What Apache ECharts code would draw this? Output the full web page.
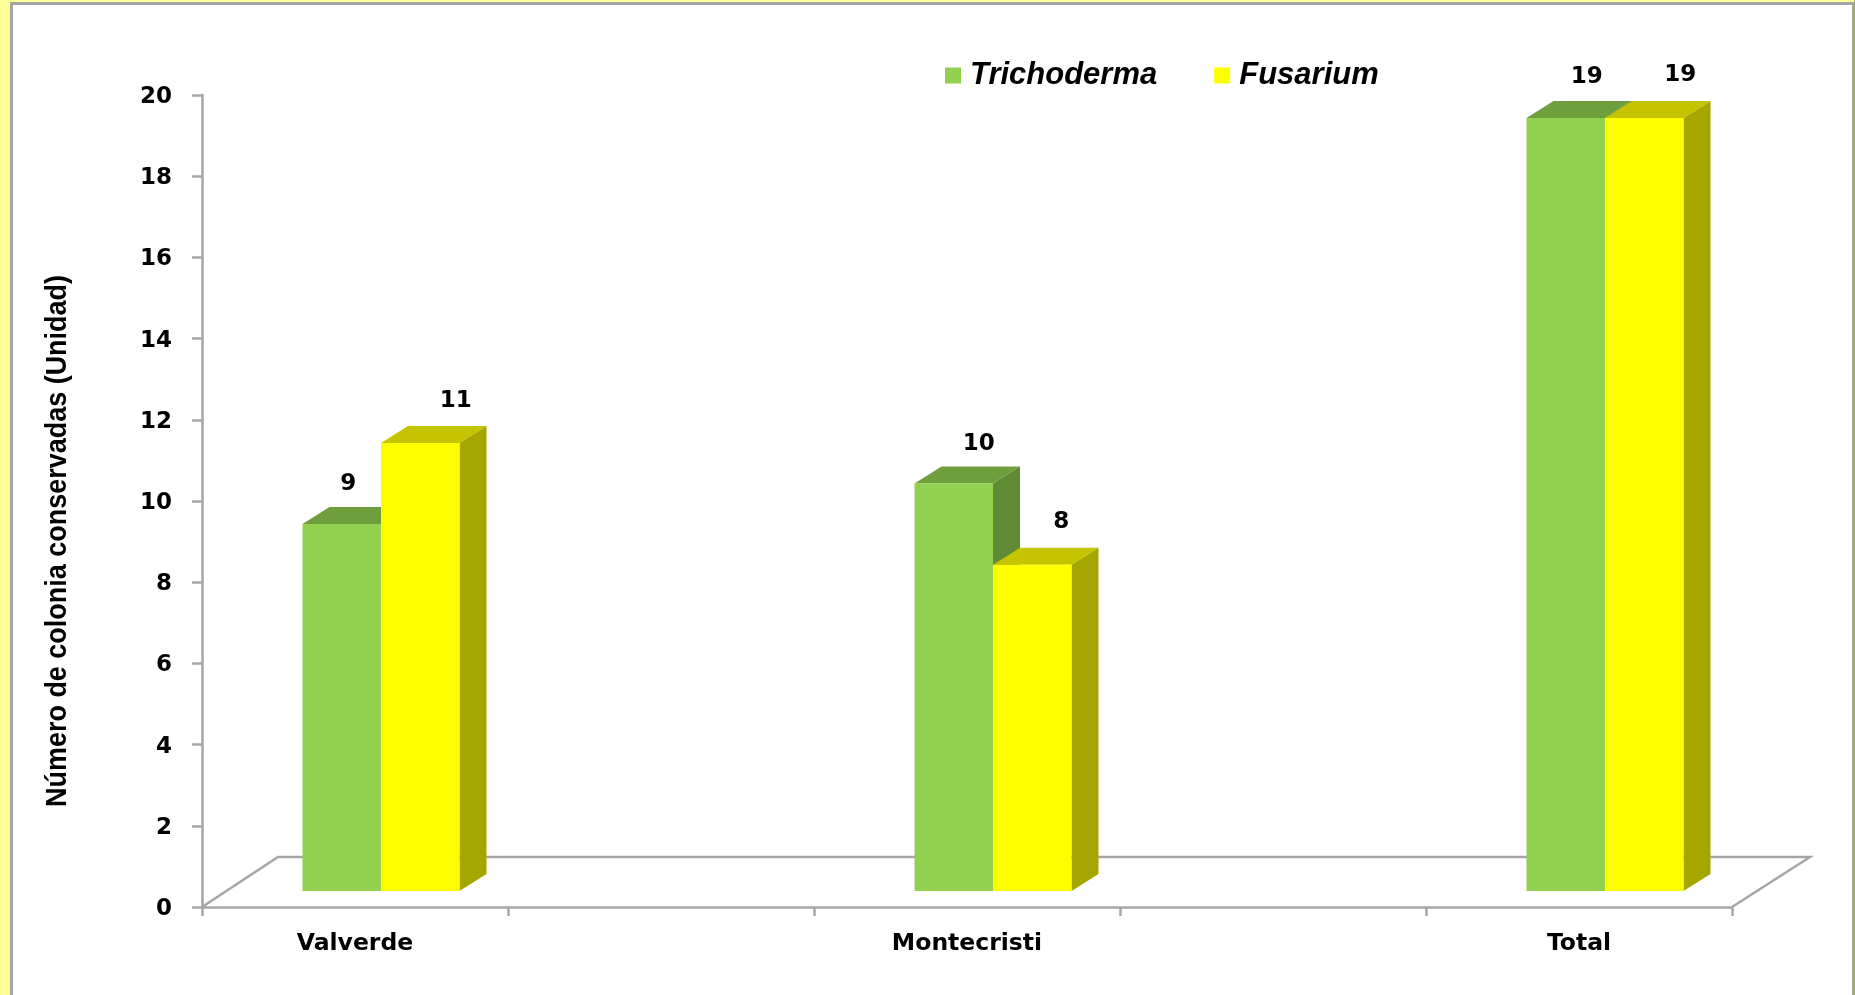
<!DOCTYPE html>
<html><head><meta charset="utf-8">
<style>html,body{margin:0;padding:0;background:#fff}#c{width:1855px;height:995px}</style>
<script src="https://cdn.jsdelivr.net/npm/echarts@6/dist/echarts.min.js"></script>
</head><body><div id="c"></div>
<script>
var categories = ['Valverde', '', 'Montecristi', '', 'Total'];
var trichoderma = [9, null, 10, null, 19];
var fusarium = [11, null, 8, null, 19];
var seriesNames = ['Trichoderma', 'Fusarium'];
var yTicks = {min: 0, max: 20, interval: 2};
var yTitle = 'Número de colonia conservadas (Unidad)';

// 3D-look styling (layout only, not data)
var greenFaces = {front: '#92D050', top: '#6F9E3D', side: '#5F8A34'};
var yellowFaces = {front: '#FFFF00', top: '#C4C400', side: '#A6A600'};
var DEPTH_X = 26, DEPTH_Y = 17, BAR_W = 78.5, LIFT_BASE = 16, LIFT_TOP = 17.5;
// hand-placed data label offsets in the reference, per category index
var greenLabelOffset = {0: [6.5, -40], 2: [25, -39], 4: [21, -41]};
var yellowLabelOffset = {0: [35.5, -42], 2: [29, -43], 4: [36, -43]};

function toData(values) {
  return categories.map(function (c, i) { return [i, values[i]]; })
    .filter(function (d) { return d[1] !== null; });
}

function barRenderer(faces, side, labelOffset) {
  return function (params, api) {
    var idx = api.value(0), val = api.value(1);
    var band = api.coord([idx, val]);
    var base = api.coord([idx, 0])[1] - LIFT_BASE;
    var top = band[1] - LIFT_TOP;
    var cx = band[0] + DEPTH_X;
    var x0 = side < 0 ? cx - BAR_W : cx;
    var x1 = x0 + BAR_W;
    var off = labelOffset[idx];
    var lx = x0 + BAR_W / 2 + off[0], ly = top + off[1];
    return {
      type: 'group',
      children: [
        {type: 'polygon', shape: {points: [[x1, top], [x1 + 27, top - DEPTH_Y], [x1 + 27, base - DEPTH_Y], [x1, base]]}, style: {fill: faces.side}},
        {type: 'polygon', shape: {points: [[x0, top], [x0 + 27, top - DEPTH_Y], [x1 + 27, top - DEPTH_Y], [x1, top]]}, style: {fill: faces.top}},
        {type: 'rect', shape: {x: x0, y: top, width: BAR_W, height: base - top}, style: {fill: faces.front}},
        {type: 'text', x: lx, y: ly, style: {text: String(val), fill: '#000', font: 'bold 23px "DejaVu Sans"', align: 'center', verticalAlign: 'middle'}}
      ]
    };
  };
}

function floorRenderer(params, api) {
  var g = params.coordSys, x0 = g.x, y0 = g.y + g.height, x1 = g.x + g.width;
  return {
    type: 'polyline',
    shape: {points: [[x0, y0], [x0 + 76, y0 - 50], [x1 + 78, y0 - 50], [x1, y0]]},
    style: {stroke: '#A6A6A6', lineWidth: 2.5, fill: null}
  };
}

var chart = echarts.init(document.getElementById('c'), null, {renderer: 'canvas'});
chart.setOption({
  animation: false,
  backgroundColor: '#fff',
  grid: {left: 202, right: 123, top: 95, bottom: 88},
  legend: {
    left: 945, top: 60, padding: 0, itemWidth: 16, itemHeight: 16, itemGap: 57, icon: 'rect',
    data: seriesNames,
    textStyle: {fontFamily: 'Liberation Sans', fontWeight: 'bold', fontStyle: 'italic', fontSize: 31, color: '#000', padding: [0, 0, 0, 4]}
  },
  xAxis: {
    type: 'category', data: categories,
    axisLine: {lineStyle: {color: '#A6A6A6', width: 2.5}},
    axisTick: {show: true, interval: 0, length: 9, lineStyle: {color: '#A6A6A6', width: 2.5}},
    axisLabel: {interval: 0, margin: 25, color: '#000', fontFamily: 'DejaVu Sans', fontWeight: 'bold', fontSize: 23.5},
    splitLine: {show: false}
  },
  yAxis: {
    type: 'value', min: yTicks.min, max: yTicks.max, interval: yTicks.interval,
    axisLine: {show: true, lineStyle: {color: '#A6A6A6', width: 2.5}},
    axisTick: {show: true, length: 10, lineStyle: {color: '#A6A6A6', width: 2.5}},
    axisLabel: {margin: 30, verticalAlign: 'top', lineHeight: 4, color: '#000', fontFamily: 'DejaVu Sans', fontWeight: 'bold', fontSize: 23},
    splitLine: {show: false}
  },
  graphic: [
    {type: 'rect', z: -10, silent: true, shape: {x: 0, y: 0, width: 1855, height: 995}, style: {fill: '#FFFF99'}},
    {type: 'rect', z: -9, silent: true, shape: {x: 10, y: 2, width: 1844, height: 993}, style: {fill: '#A6A6A6'}},
    {type: 'rect', z: -8, silent: true, shape: {x: 13, y: 5, width: 1839, height: 990}, style: {fill: '#FFFFFF'}},
    {type: 'rect', z: -9, silent: true, shape: {x: 1854, y: 0, width: 1, height: 995}, style: {fill: '#A6A66A'}},
    {type: 'text', z: 5, silent: true, x: 58, y: 541, rotation: Math.PI / 2, scaleX: 0.93, scaleY: 1,
      style: {text: yTitle, fill: '#000', font: 'bold 29px "Liberation Sans"', align: 'center', verticalAlign: 'middle'}}
  ],
  series: [
    {name: 'floor', type: 'custom', silent: true, z: 1, renderItem: floorRenderer, data: [[0, 0]], encode: {x: 0, y: 1}},
    {name: seriesNames[0], type: 'custom', z: 2, itemStyle: {color: greenFaces.front}, renderItem: barRenderer(greenFaces, -1, greenLabelOffset), data: toData(trichoderma), encode: {x: 0, y: 1}},
    {name: seriesNames[1], type: 'custom', z: 3, itemStyle: {color: yellowFaces.front}, renderItem: barRenderer(yellowFaces, 1, yellowLabelOffset), data: toData(fusarium), encode: {x: 0, y: 1}}
  ]
});
</script></body></html>
